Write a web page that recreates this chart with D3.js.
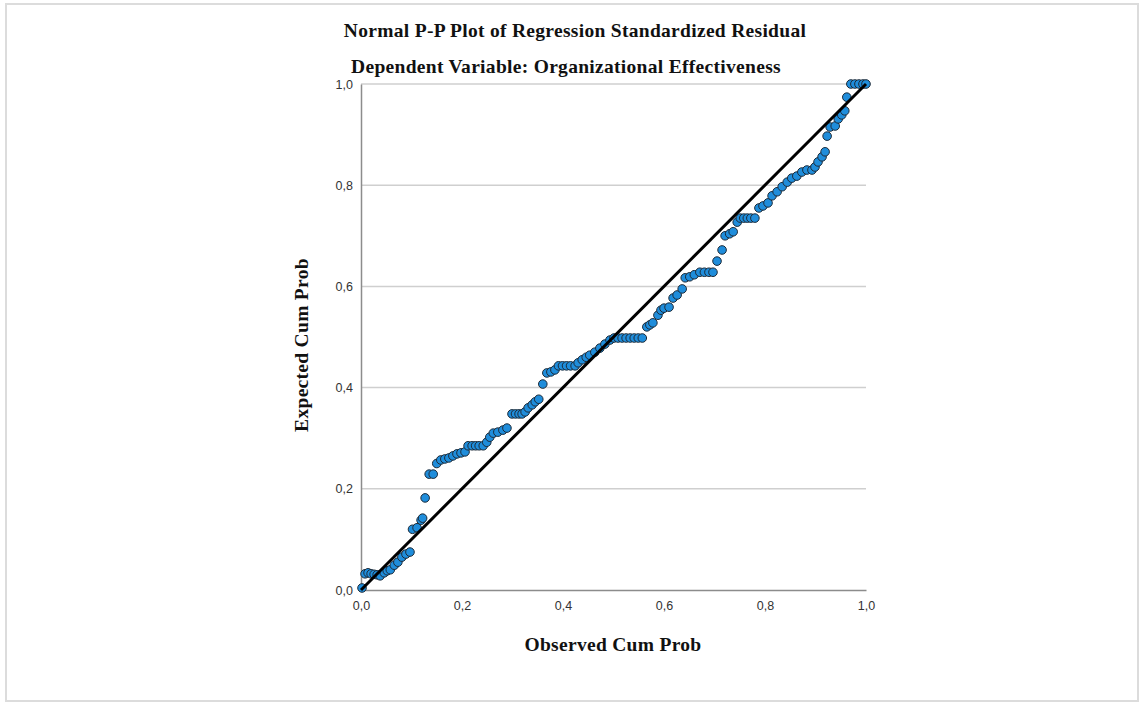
<!DOCTYPE html>
<html>
<head>
<meta charset="utf-8">
<script src="https://cdnjs.cloudflare.com/ajax/libs/d3/7.8.5/d3.min.js"></script>
<style>
  body { margin: 0; background: #fff; }
</style>
</head>
<body>
<script>
// observed cumulative probability (x) and expected cumulative probability (y)
var observed = [
  0.002, 0.008, 0.014, 0.020, 0.026, 0.032, 0.038, 0.046, 0.052, 0.058,
  0.066, 0.073, 0.081, 0.089, 0.097, 0.102, 0.111, 0.119, 0.122, 0.127,
  0.135, 0.143, 0.150, 0.158, 0.166, 0.174, 0.182, 0.190, 0.198, 0.206,
  0.212, 0.220, 0.227, 0.234, 0.242, 0.249, 0.255, 0.262, 0.271, 0.281,
  0.289, 0.299, 0.306, 0.313, 0.319, 0.325, 0.331, 0.339, 0.345, 0.352,
  0.360, 0.368, 0.376, 0.384, 0.391, 0.399, 0.407, 0.415, 0.424, 0.430,
  0.438, 0.446, 0.453, 0.463, 0.473, 0.483, 0.493, 0.501, 0.509, 0.517,
  0.525, 0.533, 0.541, 0.549, 0.557, 0.566, 0.572, 0.578, 0.588, 0.594,
  0.600, 0.610, 0.618, 0.626, 0.636, 0.642, 0.651, 0.660, 0.671, 0.680,
  0.689, 0.697, 0.705, 0.715, 0.721, 0.730, 0.737, 0.745, 0.751, 0.758,
  0.765, 0.772, 0.780, 0.788, 0.796, 0.806, 0.814, 0.824, 0.834, 0.844,
  0.853, 0.863, 0.873, 0.883, 0.893, 0.899, 0.905, 0.913, 0.919, 0.923,
  0.929, 0.939, 0.945, 0.952, 0.958, 0.962, 0.970, 0.978, 0.986, 0.994,
  1.000
];
var expected = [
  0.004, 0.032, 0.034, 0.032, 0.031, 0.030, 0.028, 0.034, 0.038, 0.040,
  0.049, 0.055, 0.065, 0.071, 0.075, 0.120, 0.123, 0.138, 0.142, 0.182,
  0.229, 0.229, 0.250, 0.257, 0.259, 0.261, 0.265, 0.269, 0.271, 0.273,
  0.285, 0.285, 0.285, 0.285, 0.285, 0.292, 0.302, 0.310, 0.312, 0.316,
  0.320, 0.348, 0.348, 0.348, 0.348, 0.352, 0.360, 0.366, 0.372, 0.377,
  0.407, 0.429, 0.431, 0.435, 0.443, 0.443, 0.443, 0.443, 0.443, 0.449,
  0.455, 0.460, 0.464, 0.470, 0.478, 0.486, 0.494, 0.498, 0.498, 0.498,
  0.498, 0.498, 0.498, 0.498, 0.498, 0.520, 0.524, 0.528, 0.543, 0.553,
  0.557, 0.559, 0.577, 0.583, 0.595, 0.617, 0.619, 0.623, 0.628, 0.628,
  0.628, 0.628, 0.650, 0.672, 0.700, 0.704, 0.708, 0.727, 0.735, 0.735,
  0.735, 0.735, 0.735, 0.755, 0.759, 0.765, 0.779, 0.787, 0.797, 0.806,
  0.814, 0.818, 0.826, 0.830, 0.830, 0.836, 0.846, 0.856, 0.866, 0.897,
  0.915, 0.917, 0.931, 0.939, 0.947, 0.974, 1.000, 1.000, 1.000, 1.000,
  1.000
];
var ticks = [0, 0.2, 0.4, 0.6, 0.8, 1.0];
var titleText = "Normal P-P Plot of Regression Standardized Residual";
var subtitleText = "Dependent Variable: Organizational Effectiveness";
var xLabel = "Observed Cum Prob";
var yLabel = "Expected Cum Prob";

var w = 1141, h = 704;
var plotLeft = 361, plotRight = 866, plotTop = 84, plotBottom = 590;

var svg = d3.select("body").append("svg").attr("width", w).attr("height", h);

// outer frame
svg.append("rect")
    .attr("x", 6).attr("y", 4).attr("width", 1132).attr("height", 697)
    .attr("fill", "none").attr("stroke", "#dcdcdc").attr("stroke-width", 2);

var x = d3.scaleLinear().domain([0, 1]).range([plotLeft, plotRight]);
var y = d3.scaleLinear().domain([0, 1]).range([plotBottom, plotTop]);
var fmt = function (d) { return d3.format(".1f")(d).replace(".", ","); };

// gridlines
svg.append("g").selectAll("line")
    .data(ticks.slice(1))
    .enter().append("line")
    .attr("x1", plotLeft).attr("x2", plotRight)
    .attr("y1", function (d) { return y(d); })
    .attr("y2", function (d) { return y(d); })
    .attr("stroke", "#cfcfcf").attr("stroke-width", 1.5);

// axes
var xAxis = svg.append("g").attr("transform", "translate(0," + plotBottom + ")")
    .call(d3.axisBottom(x).tickValues(ticks).tickFormat(fmt).tickSize(0).tickPadding(11));
var yAxis = svg.append("g").attr("transform", "translate(" + plotLeft + ",0)")
    .call(d3.axisLeft(y).tickValues(ticks).tickFormat(fmt).tickSize(0).tickPadding(8));
[xAxis, yAxis].forEach(function (g) {
    g.select(".domain").attr("stroke", "#8c8c8c").attr("stroke-width", 1.5);
    g.selectAll("text").attr("font-family", "Liberation Sans, Arial, sans-serif")
        .attr("font-size", "12.5px").attr("fill", "#333");
});

// points
svg.append("g").selectAll("circle")
    .data(observed)
    .enter().append("circle")
    .attr("cx", function (d) { return x(d); })
    .attr("cy", function (d, i) { return y(expected[i]); })
    .attr("r", 4.3)
    .attr("fill", "#1f8ddb")
    .attr("stroke", "#1c2a38")
    .attr("stroke-width", 1);

// reference line
svg.append("line")
    .attr("x1", x(0)).attr("y1", y(0)).attr("x2", x(1)).attr("y2", y(1))
    .attr("stroke", "#000").attr("stroke-width", 3);

// titles
var serif = "Liberation Serif, Times New Roman, serif";
function label(xp, yp, txt, rot) {
    var t = svg.append("text")
        .attr("transform", "translate(" + xp + "," + yp + ")" + (rot ? " rotate(-90)" : ""))
        .attr("text-anchor", "middle")
        .attr("font-family", serif).attr("font-weight", "bold").attr("font-size", "19.5px")
        .attr("letter-spacing", "0.3px")
        .attr("fill", "#111").text(txt);
    return t;
}
label(575, 37, titleText);
label(566, 73, subtitleText);
label(613, 651, xLabel);
label(308, 345, yLabel, true);
</script>
</body>
</html>
